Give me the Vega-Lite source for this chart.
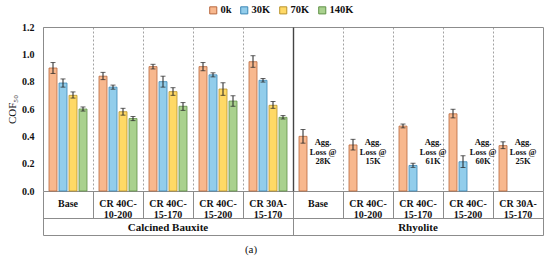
{
  "$schema": "https://vega.github.io/schema/vega-lite/v6.json",
  "width": 500,
  "height": 164,
  "autosize": {"type": "none"},
  "padding": {"left": 43, "top": 27, "right": 7, "bottom": 72},
  "title": {"text": "(a)", "orient": "bottom", "anchor": "middle", "dx": -42, "offset": 8, "fontSize": 11, "fontWeight": "normal", "font": "Liberation Serif", "color": "#111"},
  "datasets": {
    "bars": [
      {"material": "Calcined Bauxite", "category": "Base", "series": "0k", "cof": 0.90, "lo": 0.86, "hi": 0.94},
      {"material": "Calcined Bauxite", "category": "Base", "series": "30K", "cof": 0.79, "lo": 0.76, "hi": 0.82},
      {"material": "Calcined Bauxite", "category": "Base", "series": "70K", "cof": 0.70, "lo": 0.68, "hi": 0.725},
      {"material": "Calcined Bauxite", "category": "Base", "series": "140K", "cof": 0.60, "lo": 0.585, "hi": 0.615},
      {"material": "Calcined Bauxite", "category": "CR 40C-10-200", "series": "0k", "cof": 0.84, "lo": 0.815, "hi": 0.868},
      {"material": "Calcined Bauxite", "category": "CR 40C-10-200", "series": "30K", "cof": 0.76, "lo": 0.745, "hi": 0.775},
      {"material": "Calcined Bauxite", "category": "CR 40C-10-200", "series": "70K", "cof": 0.58, "lo": 0.555, "hi": 0.605},
      {"material": "Calcined Bauxite", "category": "CR 40C-10-200", "series": "140K", "cof": 0.53, "lo": 0.515, "hi": 0.545},
      {"material": "Calcined Bauxite", "category": "CR 40C-15-170", "series": "0k", "cof": 0.91, "lo": 0.893, "hi": 0.927},
      {"material": "Calcined Bauxite", "category": "CR 40C-15-170", "series": "30K", "cof": 0.80, "lo": 0.76, "hi": 0.84},
      {"material": "Calcined Bauxite", "category": "CR 40C-15-170", "series": "70K", "cof": 0.727, "lo": 0.70, "hi": 0.756},
      {"material": "Calcined Bauxite", "category": "CR 40C-15-170", "series": "140K", "cof": 0.62, "lo": 0.59, "hi": 0.647},
      {"material": "Calcined Bauxite", "category": "CR 40C-15-200", "series": "0k", "cof": 0.91, "lo": 0.88, "hi": 0.94},
      {"material": "Calcined Bauxite", "category": "CR 40C-15-200", "series": "30K", "cof": 0.85, "lo": 0.835, "hi": 0.865},
      {"material": "Calcined Bauxite", "category": "CR 40C-15-200", "series": "70K", "cof": 0.746, "lo": 0.70, "hi": 0.792},
      {"material": "Calcined Bauxite", "category": "CR 40C-15-200", "series": "140K", "cof": 0.658, "lo": 0.62, "hi": 0.697},
      {"material": "Calcined Bauxite", "category": "CR 30A-15-170", "series": "0k", "cof": 0.946, "lo": 0.905, "hi": 0.99},
      {"material": "Calcined Bauxite", "category": "CR 30A-15-170", "series": "30K", "cof": 0.81, "lo": 0.797, "hi": 0.823},
      {"material": "Calcined Bauxite", "category": "CR 30A-15-170", "series": "70K", "cof": 0.627, "lo": 0.605, "hi": 0.655},
      {"material": "Calcined Bauxite", "category": "CR 30A-15-170", "series": "140K", "cof": 0.539, "lo": 0.527, "hi": 0.552},
      {"material": "Rhyolite", "category": "Base", "series": "0k", "cof": 0.40, "lo": 0.35, "hi": 0.45},
      {"material": "Rhyolite", "category": "CR 40C-10-200", "series": "0k", "cof": 0.337, "lo": 0.30, "hi": 0.378},
      {"material": "Rhyolite", "category": "CR 40C-15-170", "series": "0k", "cof": 0.475, "lo": 0.462, "hi": 0.49},
      {"material": "Rhyolite", "category": "CR 40C-15-170", "series": "30K", "cof": 0.187, "lo": 0.173, "hi": 0.203},
      {"material": "Rhyolite", "category": "CR 40C-15-200", "series": "0k", "cof": 0.565, "lo": 0.535, "hi": 0.598},
      {"material": "Rhyolite", "category": "CR 40C-15-200", "series": "30K", "cof": 0.214, "lo": 0.172, "hi": 0.258},
      {"material": "Rhyolite", "category": "CR 30A-15-170", "series": "0k", "cof": 0.332, "lo": 0.31, "hi": 0.36}
    ],
    "notes": [
      {"material": "Rhyolite", "category": "Base", "slot": "70K", "note": "Agg.\nLoss @\n28K"},
      {"material": "Rhyolite", "category": "CR 40C-10-200", "slot": "70K", "note": "Agg.\nLoss @\n15K"},
      {"material": "Rhyolite", "category": "CR 40C-15-170", "slot": "140K", "note": "Agg.\nLoss @\n61K"},
      {"material": "Rhyolite", "category": "CR 40C-15-200", "slot": "140K", "note": "Agg.\nLoss @\n60K"},
      {"material": "Rhyolite", "category": "CR 30A-15-170", "slot": "70K", "note": "Agg.\nLoss @\n25K"}
    ]
  },
  "resolve": {"axis": {"x": "independent"}},
  "layer": [
    {
      "data": {"name": "bars"},
      "transform": [{"calculate": "datum.material + '|' + datum.category", "as": "key"}],
      "mark": {"type": "bar", "strokeWidth": 0.8},
      "encoding": {
        "x": {
          "field": "key", "type": "nominal",
          "scale": {"domain": ["Calcined Bauxite|Base", "Calcined Bauxite|CR 40C-10-200", "Calcined Bauxite|CR 40C-15-170", "Calcined Bauxite|CR 40C-15-200", "Calcined Bauxite|CR 30A-15-170", "Rhyolite|Base", "Rhyolite|CR 40C-10-200", "Rhyolite|CR 40C-15-170", "Rhyolite|CR 40C-15-200", "Rhyolite|CR 30A-15-170"], "paddingInner": 0, "paddingOuter": 0},
          "axis": {
            "orient": "bottom", "title": null, "bandPosition": 0, "domain": false,
            "grid": true,
            "gridDash": {"condition": {"test": "datum.value === 'Rhyolite|Base'", "value": []}, "value": [2, 2]},
            "gridColor": {"condition": {"test": "datum.value === 'Rhyolite|Base'", "value": "#444"}, "value": "#8a8a8a"},
            "gridWidth": {"condition": {"test": "datum.value === 'Rhyolite|Base'", "value": 1.4}, "value": 0.8},
            "ticks": true,
            "tickSize": {"condition": {"test": "datum.value === 'Rhyolite|Base' || datum.value === 'Calcined Bauxite|Base'", "value": 44}, "value": 27},
            "tickColor": "#8c8c8c",
            "labelExpr": "[substring(split(datum.label,'|')[1],0,7), substring(split(datum.label,'|')[1],7)]",
            "labelOffset": 0,
            "labelPadding": {"condition": {"test": "datum.value === 'Rhyolite|Base' || datum.value === 'Calcined Bauxite|Base'", "value": -37}, "value": -20},
            "labelAngle": 0, "labelOverlap": false, "labelAlign": "center",
            "labelFont": "Liberation Serif", "labelFontWeight": "bold", "labelFontSize": 10,
            "labelLineHeight": 11, "labelColor": "#111", "labelBaseline": "top"
          }
        },
        "xOffset": {"field": "series", "type": "nominal", "scale": {"domain": ["0k", "30K", "70K", "140K"], "paddingInner": 0.2, "paddingOuter": 0.6}},
        "y": {
          "field": "cof", "type": "quantitative", "title": "COF₅₀",
          "scale": {"domain": [0, 1.2], "nice": false},
          "axis": {"values": [0, 0.2, 0.4, 0.6, 0.8, 1.0, 1.2], "tickCount": 10, "format": ".1f", "ticks": false, "domain": false, "grid": false, "labelOverlap": false}
        },
        "color": {
          "field": "series", "type": "nominal",
          "scale": {"domain": ["0k", "30K", "70K", "140K"], "range": ["#F8B88E", "#92CDEB", "#FFD966", "#A9D18E"]},
          "legend": {"orient": "none", "legendX": 165, "legendY": -22, "direction": "horizontal", "title": null,
            "symbolType": "square", "symbolSize": 50, "symbolStrokeWidth": 1,
            "labelFont": "Liberation Serif", "labelFontWeight": "bold", "labelFontSize": 10.5, "labelColor": "#111",
            "columnPadding": 6, "labelOffset": 2}
        },
        "stroke": {
          "field": "series", "type": "nominal",
          "scale": {"domain": ["0k", "30K", "70K", "140K"], "range": ["#B8683E", "#3B87B5", "#B8922A", "#5F9146"]}
        }
      }
    },
    {
      "data": {"name": "bars"},
      "transform": [{"calculate": "datum.material + '|' + datum.category", "as": "key"}],
      "mark": {"type": "rule", "color": "#222", "strokeWidth": 1},
      "encoding": {
        "x": {"field": "key", "type": "nominal",
          "axis": {"orient": "bottom", "offset": 27, "title": null, "domain": true, "domainColor": "#8c8c8c", "ticks": false, "labels": false, "grid": false}},
        "xOffset": {"field": "series", "type": "nominal"},
        "y": {"field": "lo", "type": "quantitative", "title": "COF₅₀",
          "axis": {"values": [0, 0.2, 0.4, 0.6, 0.8, 1.0, 1.2], "tickCount": 10, "format": ".1f", "ticks": false, "domain": false, "grid": false, "labelOverlap": false}},
        "y2": {"field": "hi"}
      }
    },
    {
      "data": {"name": "bars"},
      "transform": [{"calculate": "datum.material + '|' + datum.category", "as": "key"}],
      "mark": {"type": "tick", "color": "#222", "thickness": 1, "size": 5},
      "encoding": {
        "x": {"field": "key", "type": "nominal",
          "axis": {"orient": "bottom", "offset": 44, "title": null, "domain": true, "domainColor": "#8c8c8c", "grid": false,
            "bandPosition": 1, "ticks": true, "tickSize": -44, "tickColor": "#8c8c8c",
            "tickOpacity": {"condition": {"test": "datum.value === 'Rhyolite|CR 30A-15-170'", "value": 1}, "value": 0},
            "labelExpr": "split(datum.label,'|')[1] === 'CR 40C-15-170' ? split(datum.label,'|')[0] : ''",
            "labelOffset": 0, "labelPadding": 36, "labelAngle": 0, "labelBaseline": "middle", "labelAlign": "center", "labelOverlap": false,
            "labelFont": "Liberation Serif", "labelFontWeight": "bold", "labelFontSize": 11, "labelColor": "#111"}},
        "xOffset": {"field": "series", "type": "nominal"},
        "y": {"field": "hi", "type": "quantitative", "title": "COF₅₀",
          "axis": {"values": [0, 0.2, 0.4, 0.6, 0.8, 1.0, 1.2], "tickCount": 10, "format": ".1f", "ticks": false, "domain": false, "grid": false, "labelOverlap": false}}
      }
    },
    {
      "data": {"name": "bars"},
      "transform": [{"calculate": "datum.material + '|' + datum.category", "as": "key"}],
      "mark": {"type": "tick", "color": "#222", "thickness": 1, "size": 5},
      "encoding": {
        "x": {"field": "key", "type": "nominal", "axis": null},
        "xOffset": {"field": "series", "type": "nominal"},
        "y": {"field": "lo", "type": "quantitative", "title": "COF₅₀",
          "axis": {"values": [0, 0.2, 0.4, 0.6, 0.8, 1.0, 1.2], "tickCount": 10, "format": ".1f", "ticks": false, "domain": false, "grid": false, "labelOverlap": false}}
      }
    },
    {
      "data": {"name": "notes"},
      "transform": [{"calculate": "datum.material + '|' + datum.category", "as": "key"}],
      "mark": {"type": "text", "font": "Liberation Serif", "fontWeight": "bold", "fontSize": 8.5, "lineHeight": 9.5, "lineBreak": "\n", "align": "center", "baseline": "middle", "color": "#111"},
      "encoding": {
        "x": {"field": "key", "type": "nominal", "axis": null},
        "xOffset": {"field": "slot", "type": "nominal"},
        "y": {"datum": 0.356, "type": "quantitative", "title": "COF₅₀",
          "axis": {"values": [0, 0.2, 0.4, 0.6, 0.8, 1.0, 1.2], "tickCount": 10, "format": ".1f", "ticks": false, "domain": false, "grid": false, "labelOverlap": false}},
        "text": {"field": "note"}
      }
    }
  ],
  "config": {
    "font": "Liberation Serif",
    "view": {"stroke": "#8c8c8c", "strokeWidth": 1},
    "axisY": {"labelFont": "Liberation Serif", "labelFontWeight": "bold", "labelFontSize": 10, "labelColor": "#111", "labelPadding": 9, "labelOverlap": false,
      "titleFont": "Liberation Serif", "titleFontWeight": "normal", "titleFontSize": 11, "titleColor": "#111", "titlePadding": 4}
  }
}
